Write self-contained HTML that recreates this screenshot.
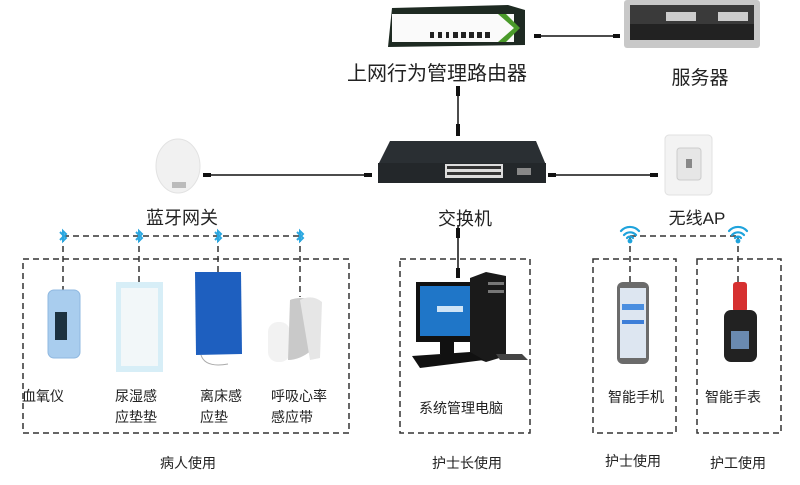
<!DOCTYPE html>
<html><head><meta charset="utf-8"><style>
html,body{margin:0;padding:0;background:#fff;width:800px;height:485px;overflow:hidden}
svg text{font-family:"Liberation Sans","Noto Sans CJK SC",sans-serif;fill:#222}
</style></head><body>
<svg width="800" height="485" viewBox="0 0 800 485" xmlns="http://www.w3.org/2000/svg">
<defs>
<g id="bt"><path d="M-3,-4 L3,2 L0,5 L0,-5 L3,-2 L-3,4" fill="none" stroke="#2aa7e0" stroke-width="2"/></g>
<g id="wifi" fill="none" stroke="#1fa3dc" stroke-width="2.2" stroke-linecap="round">
<path d="M-9,-3 A12,12 0 0 1 9,-3"/><path d="M-6,1 A8,8 0 0 1 6,1"/><path d="M-3,4 A4,4 0 0 1 3,4"/><circle cx="0" cy="7" r="1.3" fill="#1fa3dc"/></g>
</defs>
<g stroke="#111" stroke-width="1.5">
<line x1="537" y1="36" x2="617" y2="36"/>
<line x1="458" y1="88" x2="458" y2="132"/>
<line x1="206" y1="175" x2="370" y2="175"/>
<line x1="550" y1="175" x2="658" y2="175"/>
<line x1="458" y1="225" x2="458" y2="275"/>
</g>
<g fill="#111">
<rect x="534" y="34" width="7" height="4"/><rect x="613" y="34" width="7" height="4"/>
<rect x="456" y="86" width="4" height="10"/><rect x="456" y="124" width="4" height="12"/>
<rect x="203" y="173" width="8" height="4"/><rect x="364" y="173" width="8" height="4"/>
<rect x="548" y="173" width="8" height="4"/><rect x="650" y="173" width="8" height="4"/>
<rect x="456" y="228" width="4" height="10"/><rect x="456" y="268" width="4" height="10"/>
</g>
<path d="M392,8 L508,5 L525,10 L525,45 L388,47 Z" fill="#1e2a22"/>
<rect x="392" y="14" width="122" height="28" fill="#fafafa"/>
<path d="M498,14 L514,28 L498,42 L506,42 L520,28 L506,14Z" fill="#4a9a2a"/>
<g fill="#222"><rect x="430" y="32" width="4" height="6"/><rect x="438" y="32" width="4" height="6"/><rect x="446" y="32" width="3" height="6"/><rect x="453" y="32" width="5" height="6"/><rect x="461" y="32" width="5" height="6"/><rect x="469" y="32" width="5" height="6"/><rect x="477" y="32" width="5" height="6"/><rect x="485" y="32" width="5" height="6"/></g>
<text x="437" y="80" font-size="20" text-anchor="middle">上网行为管理路由器</text>
<rect x="624" y="0" width="136" height="48" rx="3" fill="#c8c8c8"/>
<rect x="630" y="5" width="124" height="35" fill="#3a3a3a"/>
<rect x="630" y="24" width="124" height="16" fill="#222"/>
<rect x="666" y="12" width="30" height="9" fill="#ccc"/><rect x="718" y="12" width="30" height="9" fill="#ccc"/>
<text x="700" y="84" font-size="19" text-anchor="middle">服务器</text>
<path d="M390,141 L536,141 L546,165 L546,183 L378,183 L378,165Z" fill="#2a2f33"/>
<rect x="378" y="163" width="168" height="20" fill="#23272a"/>
<rect x="445" y="164" width="58" height="14" fill="#ddd"/>
<g fill="#333"><rect x="447" y="166" width="54" height="3"/><rect x="447" y="172" width="54" height="3"/></g>
<rect x="517" y="168" width="14" height="7" fill="#888"/>
<text x="465" y="225" font-size="18" text-anchor="middle">交换机</text>
<ellipse cx="178" cy="166" rx="22" ry="27" fill="#f1f1f1" stroke="#e2e2e2"/>
<rect x="172" y="182" width="14" height="6" fill="#bbb"/>
<text x="182" y="224" font-size="18" text-anchor="middle">蓝牙网关</text>
<rect x="665" y="135" width="47" height="60" rx="4" fill="#f3f3f3" stroke="#e0e0e0"/>
<rect x="677" y="148" width="24" height="32" rx="3" fill="#e6e6e6" stroke="#ccc"/>
<rect x="686" y="159" width="6" height="9" fill="#888"/>
<text x="697" y="224" font-size="17" text-anchor="middle">无线AP</text>
<g fill="none" stroke="#333" stroke-width="1.5" stroke-dasharray="6,4">
<path d="M63,236 H300"/>
<path d="M63,236 V292"/><path d="M139,236 V282"/><path d="M218,236 V280"/><path d="M300,236 V297"/>
<rect x="23" y="259" width="326" height="174"/>
<rect x="400" y="259" width="130" height="174"/>
<rect x="593" y="259" width="83" height="174"/>
<rect x="697" y="259" width="84" height="174"/>
<path d="M630,236 H738"/><path d="M630,236 V282"/><path d="M738,236 V282"/>
</g>
<use href="#bt" x="63" y="236"/><use href="#bt" x="139" y="236"/><use href="#bt" x="218" y="236"/><use href="#bt" x="300" y="236"/>
<use href="#wifi" x="630" y="234"/><use href="#wifi" x="738" y="234"/>
<rect x="48" y="290" width="32" height="68" rx="6" fill="#a9cdee" stroke="#8fb8e0"/>
<rect x="55" y="312" width="12" height="28" fill="#1d3240"/>
<rect x="116" y="282" width="47" height="90" fill="#d7eef7"/>
<rect x="121" y="288" width="37" height="78" fill="#f2f7f9"/>
<path d="M195,272 L241,272 L242,354 L196,355Z" fill="#1e5fbf"/>
<path d="M201,355 Q205,368 228,364" fill="none" stroke="#aaa"/>
<rect x="268" y="322" width="22" height="40" rx="10" fill="#f2f2f2"/>
<path d="M290,300 Q300,296 312,300 L312,350 Q300,360 288,360Z" fill="#c9c9c9"/>
<path d="M300,300 Q312,294 322,302 L320,358 L310,360Z" fill="#e6e6e6"/>
<g font-size="14">
<text x="22" y="401">血氧仪</text>
<text x="115" y="401">尿湿感</text><text x="115" y="422">应垫垫</text>
<text x="200" y="401">离床感</text><text x="200" y="422">应垫</text>
<text x="271" y="401">呼吸心率</text><text x="271" y="422">感应带</text>
</g>
<rect x="416" y="282" width="68" height="60" fill="#111"/>
<rect x="420" y="286" width="60" height="50" fill="#1f76c8"/>
<rect x="437" y="306" width="26" height="6" fill="#cfe4f6"/>
<path d="M470,278 L486,272 L506,276 L506,356 L486,362 L470,356Z" fill="#1a1a1a"/>
<rect x="488" y="282" width="16" height="3" fill="#777"/><rect x="488" y="290" width="16" height="3" fill="#777"/>
<path d="M412,356 L470,352 L484,360 L420,368Z" fill="#111"/>
<rect x="440" y="342" width="14" height="12" fill="#111"/>
<path d="M496,354 L522,354 L528,360 L500,360Z" fill="#444"/>
<text x="419" y="413" font-size="14">系统管理电脑</text>
<rect x="617" y="282" width="32" height="82" rx="6" fill="#6b6b6b"/>
<rect x="620" y="288" width="26" height="70" fill="#dde6f1"/>
<rect x="622" y="304" width="22" height="6" fill="#4a8ee0"/><rect x="622" y="320" width="22" height="4" fill="#3d7ed8"/>
<rect x="733" y="282" width="14" height="30" rx="3" fill="#d63030"/>
<rect x="724" y="310" width="33" height="52" rx="7" fill="#222"/>
<rect x="731" y="331" width="18" height="18" fill="#6a8ab0"/>
<g font-size="14">
<text x="608" y="402">智能手机</text><text x="705" y="402">智能手表</text>
<text x="160" y="468">病人使用</text>
<text x="432" y="468">护士长使用</text>
<text x="605" y="466">护士使用</text>
<text x="710" y="468">护工使用</text>
</g>
</svg>
</body></html>
